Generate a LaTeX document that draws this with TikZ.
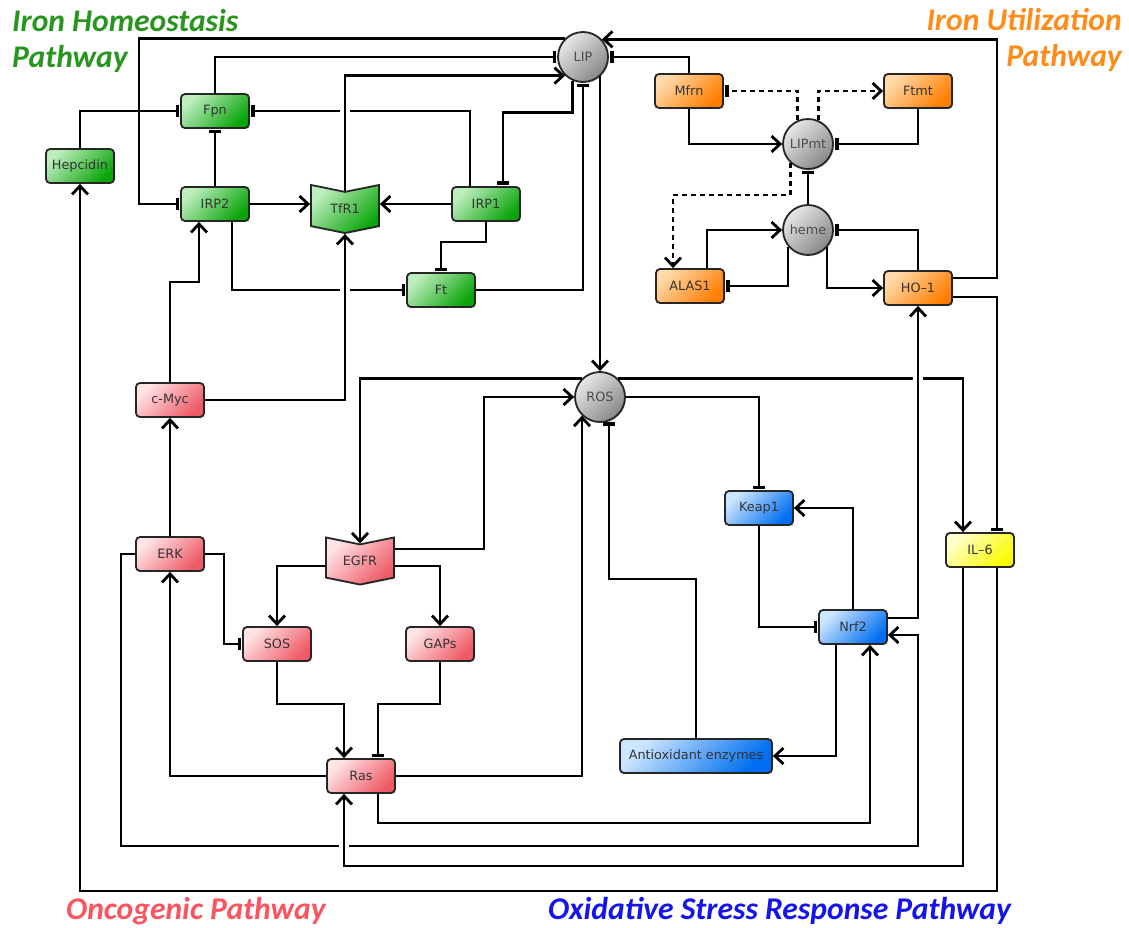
\documentclass[tikz,border=0pt]{standalone}
\usepackage{fontspec}
\setmainfont{DejaVu Sans}
\newfontfamily\titlefont{Carlito}
\usetikzlibrary{arrows.meta,shapes.symbols,shadows,calc}

\definecolor{hgreen}{RGB}{40,150,30}
\definecolor{uorange}{RGB}{255,140,25}
\definecolor{ored}{RGB}{250,85,95}
\definecolor{sblue}{RGB}{20,20,235}
\definecolor{glight}{RGB}{190,238,190}
\definecolor{gdark}{RGB}{10,165,10}
\definecolor{olight}{RGB}{255,218,170}
\definecolor{odark}{RGB}{255,125,0}
\definecolor{plight}{RGB}{255,228,230}
\definecolor{pdark}{RGB}{238,90,102}
\definecolor{blight}{RGB}{205,230,255}
\definecolor{bdark}{RGB}{0,110,240}
\definecolor{ylight}{RGB}{255,255,205}
\definecolor{ydark}{RGB}{250,250,0}
\definecolor{clight}{RGB}{232,232,232}
\definecolor{cdark}{RGB}{135,135,135}

\newcommand{\crossgap}[1]{%
  \fill[white] ($(#1)+(-5,-2.6)$) rectangle ($(#1)+(5,2.6)$);
  \draw[wire] ($(#1)+(0,-4)$) -- ($(#1)+(0,4)$);}

\begin{document}
\begin{tikzpicture}
[x=1pt,y=-1pt,
  box/.style={draw=black!85,line width=1.8pt,rounded corners=4pt,
    minimum width=68pt,minimum height=34pt,inner sep=2pt,
    drop shadow={shadow xshift=1.2pt,shadow yshift=-1.2pt,opacity=0.25},
    font=\fontsize{12.8}{14}\selectfont,text=black!80},
  greenbox/.style={box,top color=glight,bottom color=gdark,shading angle=45},
  orangebox/.style={box,top color=olight,bottom color=odark,shading angle=45},
  pinkbox/.style={box,top color=plight,bottom color=pdark,shading angle=45},
  bluebox/.style={box,top color=blight,bottom color=bdark,shading angle=45},
  yellowbox/.style={box,top color=ylight,bottom color=ydark,shading angle=45},
  chevron/.style={sharp corners,signal,signal from=north,signal to=south,
    signal pointer angle=157,minimum height=41pt},
  ball/.style={box,circle,minimum size=50pt,inner sep=0pt,text=black!70,
    top color=clight,bottom color=cdark,shading angle=45},
  title/.style={inner sep=0pt,font=\titlefont\bfseries\itshape\fontsize{31.6}{36}\selectfont},
  wire/.style={line width=2.4pt,black},
  act/.style={wire,-{Straight Barb[length=8.5pt,width=16pt,line width=2.8pt]}},
  inh/.style={wire,-{Bar[width=12pt,line width=3.6pt]},shorten >=1pt},
  dotwire/.style={dash pattern=on 5pt off 4pt}]
\path[use as bounding box,fill=white] (0,0) rectangle (1129,928);

%% pathway titles
\node[title,text=hgreen,anchor=base west] (homeA) at (12,32) {Iron Homeostasis};
\node[title,text=hgreen,anchor=base west] (homeB) at (12,68) {Pathway};
\node[title,text=uorange,anchor=base east] (utilA) at (1122,31) {Iron Utilization};
\node[title,text=uorange,anchor=base east] (utilB) at (1122,67) {Pathway};
\node[title,text=ored,anchor=base west] (onco) at (66,919) {Oncogenic Pathway};
\node[title,text=sblue,anchor=base west] (oxid) at (548,919) {Oxidative Stress Response Pathway};

%% nodes
\foreach \name/\x/\y/\txt in {Hepcidin/80/166/Hepcidin, Fpn/215/111/Fpn,
  IRP2/215/204/IRP2, IRP1/486/204/IRP1, Ft/441/290/Ft}
  \node[greenbox] (\name) at (\x,\y) {\txt};
\node[greenbox,chevron] (TfR1) at (345,209) {TfR1};
\foreach \name/\x/\y/\txt in {Mfrn/689/91/Mfrn, Ftmt/918/91/Ftmt,
  ALAS1/690/286/ALAS1, HO1/918/288/HO--1}
  \node[orangebox] (\name) at (\x,\y) {\txt};
\foreach \name/\x/\y in {LIP/583/57, LIPmt/808/144, heme/808/230, ROS/600/397}
  \node[ball] (\name) at (\x,\y) {\name};
\foreach \name/\x/\y/\txt in {cMyc/170/400/c-Myc, ERK/170/554/ERK,
  SOS/277/644/SOS, GAPs/440/644/GAPs, Ras/361/776/Ras}
  \node[pinkbox] (\name) at (\x,\y) {\txt};
\node[pinkbox,chevron] (EGFR) at (360,561) {EGFR};
\foreach \name/\x/\y/\txt in {Keap1/759/508/Keap1, Nrf2/853/627/Nrf2}
  \node[bluebox] (\name) at (\x,\y) {\txt};
\node[bluebox,minimum width=152pt] (Antiox) at (696,756) {Antioxidant enzymes};
\node[yellowbox] (IL6) at (980,550) {IL--6};

%% iron homeostasis edges
\draw[inh] (Hepcidin.north) |- (Fpn.west);
\draw[inh] (IRP2.north) -- (Fpn.south);
\draw[inh] ([xshift=-16pt]IRP1.north) |- (Fpn.east);
\draw[act] (IRP2.east) -- (IRP2.east -| TfR1.west);
\draw[act] (IRP1.west) -- (IRP1.west -| TfR1.east);
\draw[inh] (IRP1.south) -- ++(0,20) -| (Ft.north);
\draw[inh] ([xshift=17pt]IRP2.south) |- (Ft.west);
\draw[inh] (LIP.134) -| (139,150) |- (IRP2.west);
\draw[inh] (Fpn.north) |- (LIP.west);
\draw[act] (TfR1.north) |- (LIP.226);
\draw[inh] (LIP.246) -- ++(0,32) -| ([xshift=17pt]IRP1.north);
\draw[inh] (Ft.east) -| (LIP.south);
\draw[act] (ROS.north |- LIP.-47) -- (ROS.north);

%% iron utilization edges
\draw[inh] (Mfrn.north) |- (LIP.east);
\draw[act] ([yshift=10pt]HO1.east) -| (997,150) |- (LIP.43);
\draw[inh,dotwire] (LIPmt.114) |- (Mfrn.east);
\draw[act,dotwire] (LIPmt.66) |- (Ftmt.west);
\draw[act] (Mfrn.south) |- (LIPmt.west);
\draw[inh] (Ftmt.south) |- (LIPmt.east);
\draw[inh] (heme.north) -- (LIPmt.south);
\draw[act,dotwire] (LIPmt.227) -- ++(0,32) -| ([xshift=-17pt]ALAS1.north);
\draw[act] ([xshift=17pt]ALAS1.north) |- (heme.west);
\draw[inh] (heme.220) |- (ALAS1.east);
\draw[act] (heme.-42) |- (HO1.west);
\draw[inh] (HO1.north) |- (heme.east);
\draw[inh] ([yshift=-9pt]HO1.east) -| ([xshift=17pt]IL6.north);

%% ROS edges
\draw[act] (ROS.134) -| (EGFR.north);
\draw[act] (ROS.46) -| ([xshift=-17pt]IL6.north);
\draw[inh] (ROS.east) -| (Keap1.north);
\draw[act] ([yshift=12pt]EGFR.east) -| (484,450) |- (ROS.west);
\draw[inh] (Antiox.north) -- ++(0,-159) -| (ROS.-69);
\draw[act] (Ras.east) -| (ROS.226);

%% oxidative stress edges
\draw[act] (Nrf2.north) |- (Keap1.east);
\draw[inh] (Keap1.south) |- (Nrf2.west);
\draw[act] ([xshift=-17pt]Nrf2.south) |- (Antiox.east);
\draw[act] ([yshift=9pt]Nrf2.east) -| (HO1.south);
\draw[act] ([xshift=17pt]Ras.south) -- ++(0,29) -| ([xshift=17pt]Nrf2.south);
\draw[act] (ERK.west) -| (121,846) -| (918,700) |- ([yshift=-8pt]Nrf2.east);
\draw[act] ([xshift=-17pt]IL6.south) -- ++(0,298) -| ([xshift=-17pt]Ras.south);
\draw[act] ([xshift=17pt]IL6.south) -- ++(0,323) -| (Hepcidin.south);

%% oncogenic edges
\draw[act] (ERK.north) -- (cMyc.south);
\draw[act] (cMyc.north) -- ++(0,-100) -| ([xshift=-16pt]IRP2.south);
\draw[act] (cMyc.east) -| (TfR1.south);
\draw[act] (Ras.west) -| (ERK.south);
\draw[inh] (ERK.east) -| (224,600) |- (SOS.west);
\draw[act] ([yshift=-5pt]EGFR.west) -| (SOS.north);
\draw[act] ([yshift=-5pt]EGFR.east) -| (GAPs.north);
\draw[act] (SOS.south) -- ++(0,42) -| ([xshift=-17pt]Ras.north);
\draw[inh] (GAPs.south) -- ++(0,42) -| ([xshift=17pt]Ras.north);

%% line crossings
\crossgap{TfR1.north |- Fpn.east}
\crossgap{TfR1.south |- Ft.west}
\crossgap{HO1.south |- ROS.46}
\crossgap{344,846}
\end{tikzpicture}
\end{document}
